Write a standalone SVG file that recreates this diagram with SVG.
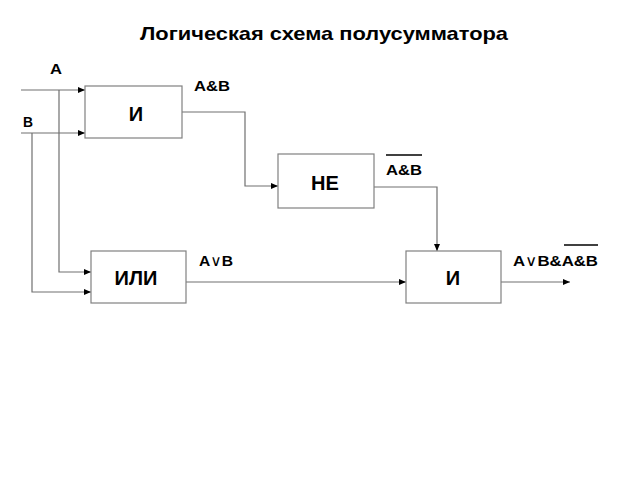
<svg xmlns="http://www.w3.org/2000/svg" width="640" height="480" viewBox="0 0 640 480">
<defs>
<marker id="arr" markerWidth="8" markerHeight="6" refX="7" refY="3" orient="auto" markerUnits="userSpaceOnUse">
<path d="M0,0 L7,3 L0,6 Z" fill="#000"/>
</marker>
<style>
.box{fill:#fff;stroke:#808080;stroke-width:1.2}
.ln{fill:none;stroke:#707070;stroke-width:1.2}
.t{font-family:"Liberation Sans",Arial,sans-serif;font-weight:bold;fill:#000}
.lbl{font-size:15px}
.big{font-size:20px;text-anchor:middle}
.or{font-weight:normal;font-family:"DejaVu Sans",sans-serif;font-size:15px}
</style>
</defs>
<rect width="640" height="480" fill="#fff"/>
<text class="t" x="140" y="40" font-size="19" textLength="368" lengthAdjust="spacingAndGlyphs">Логическая схема полусумматора</text>
<g id="connectors">
<path class="ln" d="M21,90 H85" marker-end="url(#arr)"/>
<path class="ln" d="M21,133 H85" marker-end="url(#arr)"/>
<path class="ln" d="M59,90 V272 H91" marker-end="url(#arr)"/>
<path class="ln" d="M32,133 V292 H91" marker-end="url(#arr)"/>
<path class="ln" d="M182,112 H245 V186 H278" marker-end="url(#arr)"/>
<path class="ln" d="M374,187 H437 V251" marker-end="url(#arr)"/>
<path class="ln" d="M186,282 H406" marker-end="url(#arr)"/>
<path class="ln" d="M501,282 H570" marker-end="url(#arr)"/>
</g>
<g id="labels">
<text class="t lbl" x="50" y="74" textLength="12" lengthAdjust="spacingAndGlyphs">A</text>
<text class="t lbl" x="23" y="127" textLength="10" lengthAdjust="spacingAndGlyphs">B</text>
<text class="t lbl" x="194" y="91" textLength="36" lengthAdjust="spacingAndGlyphs">A&amp;B</text>
<text class="t lbl" x="386" y="175" textLength="36" lengthAdjust="spacingAndGlyphs">A&amp;B</text>
<line x1="386" y1="155" x2="422" y2="155" stroke="#000" stroke-width="1.5"/>
<text class="t lbl" x="199" y="266" textLength="34" lengthAdjust="spacingAndGlyphs">A<tspan class="or">∨</tspan>B</text>
<text class="t lbl" x="513" y="266" textLength="85" lengthAdjust="spacingAndGlyphs">A<tspan class="or">∨</tspan>B&amp;A&amp;B</text>
<line x1="564" y1="245" x2="598" y2="245" stroke="#000" stroke-width="1.5"/>
</g>
<g id="and1">
<rect class="box" x="85" y="86" width="97" height="52"/>
<text class="t big" x="136" y="121">И</text>
</g>
<g id="not">
<rect class="box" x="278" y="154" width="96" height="54"/>
<text class="t big" x="325" y="190">НЕ</text>
</g>
<g id="or">
<rect class="box" x="91" y="251" width="95" height="52"/>
<text class="t big" x="136" y="285">ИЛИ</text>
</g>
<g id="and2">
<rect class="box" x="406" y="251" width="95" height="52"/>
<text class="t big" x="453" y="285">И</text>
</g>
</svg>
